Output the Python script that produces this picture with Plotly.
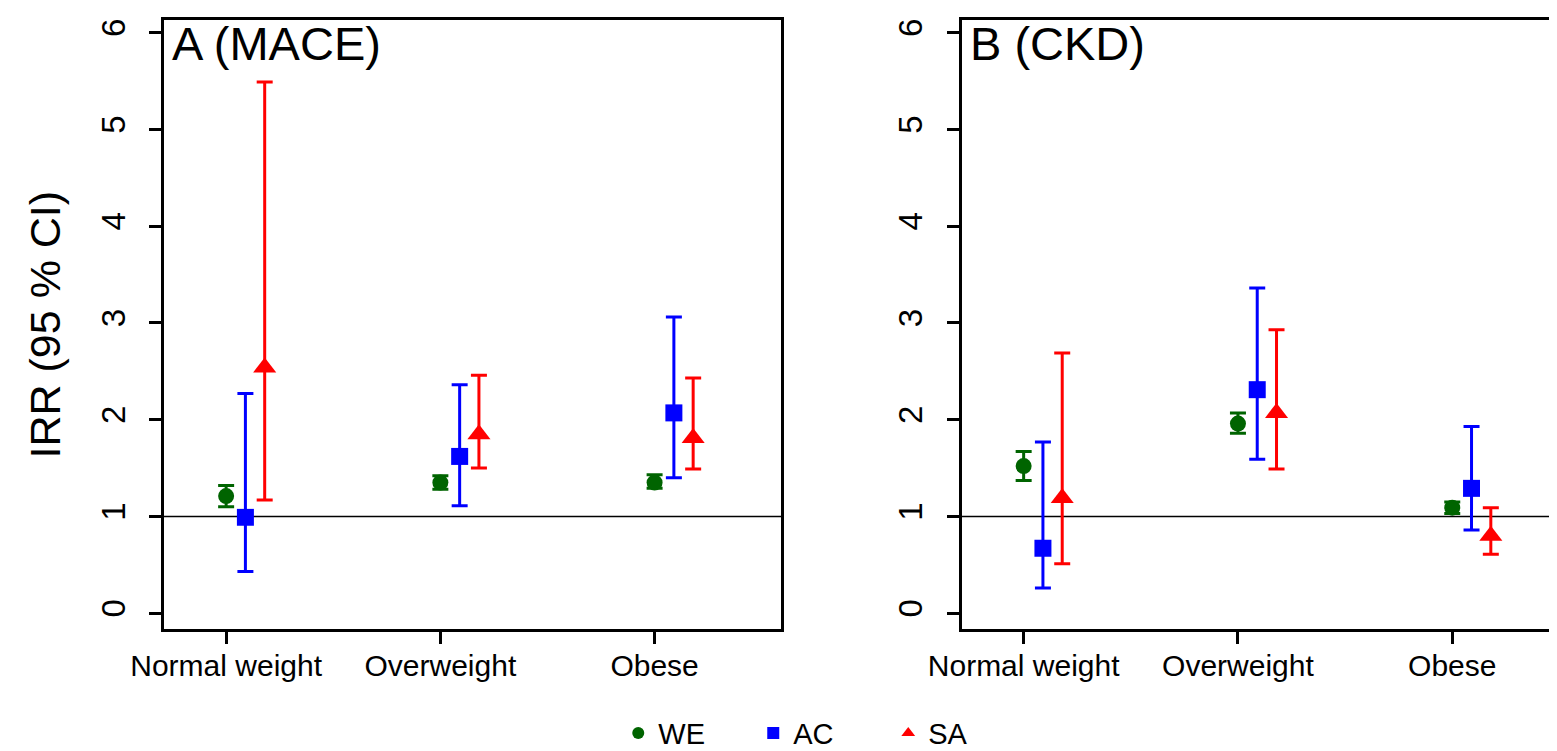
import plotly.graph_objects as go

# ---------------- data ----------------
categories = ["Normal weight", "Overweight", "Obese"]
series = ["WE", "AC", "SA"]

# Panel A (MACE)
mace_we = [1.21, 1.35, 1.35]
mace_we_lo = [1.10, 1.28, 1.29]
mace_we_hi = [1.32, 1.42, 1.43]
mace_ac = [0.99, 1.62, 2.07]
mace_ac_lo = [0.43, 1.11, 1.40]
mace_ac_hi = [2.27, 2.36, 3.06]
mace_sa = [2.54, 1.85, 1.81]
mace_sa_lo = [1.17, 1.50, 1.49]
mace_sa_hi = [5.49, 2.46, 2.43]

# Panel B (CKD)
ckd_we = [1.52, 1.96, 1.09]
ckd_we_lo = [1.37, 1.86, 1.03]
ckd_we_hi = [1.67, 2.07, 1.15]
ckd_ac = [0.67, 2.31, 1.29]
ckd_ac_lo = [0.26, 1.59, 0.86]
ckd_ac_hi = [1.77, 3.36, 1.93]
ckd_sa = [1.19, 2.07, 0.80]
ckd_sa_lo = [0.51, 1.49, 0.61]
ckd_sa_hi = [2.69, 2.93, 1.09]

y_ticks = [0, 1, 2, 3, 4, 5, 6]
panel_titles = ["A (MACE)", "B (CKD)"]
y_title = "IRR (95 % CI)"

# ---------------- styles ----------------
colors = {"WE": "#006400", "AC": "#0000FF", "SA": "#FF0000"}
symbols = {"WE": "circle", "AC": "square", "SA": "triangle-up"}
msizes = {"WE": 16, "AC": 17, "SA": 20}
offsets = {"WE": 0.0, "AC": 0.09, "SA": 0.18}
FONT = "Liberation Sans, Arial, sans-serif"

W, H = 1557, 751
fig = go.Figure()

panels = [
    ("x", "y", {"WE": (mace_we, mace_we_lo, mace_we_hi),
                "AC": (mace_ac, mace_ac_lo, mace_ac_hi),
                "SA": (mace_sa, mace_sa_lo, mace_sa_hi)}),
    ("x2", "y2", {"WE": (ckd_we, ckd_we_lo, ckd_we_hi),
                  "AC": (ckd_ac, ckd_ac_lo, ckd_ac_hi),
                  "SA": (ckd_sa, ckd_sa_lo, ckd_sa_hi)}),
]

base_x = list(range(1, len(categories) + 1))
for pi, (xa, ya, data) in enumerate(panels):
    for s in series:
        est, lo, hi = data[s]
        fig.add_trace(go.Scatter(
            x=[b + offsets[s] for b in base_x],
            y=est,
            mode="markers",
            name=s,
            legendgroup=s,
            showlegend=(pi == 0),
            xaxis=xa, yaxis=ya,
            marker=dict(symbol=symbols[s], size=msizes[s], color=colors[s],
                        line=dict(width=0)),
            error_y=dict(type="data", symmetric=False,
                         array=[h - e for h, e in zip(hi, est)],
                         arrayminus=[e - l for e, l in zip(est, lo)],
                         color=colors[s], thickness=3, width=8),
            text=categories,
            hovertemplate="%{text}<br>" + s + ": %{y:.2f}<extra></extra>",
        ))

axis_common = dict(showgrid=False, zeroline=False, showline=True,
                   linecolor="black", linewidth=3, ticks="outside",
                   ticklen=12, tickwidth=2.5, tickcolor="black",
                   automargin=False)

yd = [1 - 631.5 / H, 1 - 11.7 / H]
yrange = [-0.168, 6.136]
xtick_font = dict(size=30)
ytick_font = dict(size=33)
fig.update_layout(
    width=W, height=H,
    margin=dict(l=0, r=0, t=0, b=0),
    plot_bgcolor="white", paper_bgcolor="white",
    font=dict(family=FONT, color="black"),
    xaxis=dict(domain=[156 / W, 773 / W], range=[0.71, 3.59],
               tickvals=base_x, ticktext=categories, mirror=True,
               tickfont=xtick_font, anchor="y", ticklabelstandoff=-4,
               **axis_common),
    yaxis=dict(domain=yd, range=yrange, tickvals=y_ticks,
               tickangle=-90, tickfont=ytick_font, mirror=True,
               anchor="x", ticklabelstandoff=11, **axis_common),
    xaxis2=dict(domain=[953.5 / W, 1.0], range=[0.71, 0.71 + (W - 953.5) / 214.3],
                tickvals=base_x, ticktext=categories, mirror=True,
                tickfont=xtick_font, anchor="y2", ticklabelstandoff=-4,
                **axis_common),
    yaxis2=dict(domain=yd, range=yrange, tickvals=y_ticks,
                tickangle=-90, tickfont=ytick_font, mirror=False,
                anchor="x2", ticklabelstandoff=11, **axis_common),
    legend=dict(orientation="h", x=0.522, xanchor="center",
                y=1 - 737 / H, yanchor="middle",
                font=dict(size=29), entrywidth=90, entrywidthmode="pixels",
                itemsizing="constant", bgcolor="rgba(0,0,0,0)"),
    showlegend=True,
)

# reference line at IRR = 1
for xa, ya in [("x", "y"), ("x2", "y2")]:
    fig.add_shape(type="line", xref=f"{xa} domain", yref=ya,
                  x0=0, x1=1, y0=1, y1=1,
                  line=dict(color="black", width=1.5), layer="below")

# panel titles
for (xa, ya), t in zip([("x", "y"), ("x2", "y2")], panel_titles):
    fig.add_annotation(text=t, xref=f"{xa} domain", yref=f"{ya} domain",
                       x=0.01, y=1 - 24 / (yd[1] - yd[0]) / H,
                       xanchor="left", yanchor="middle", showarrow=False,
                       font=dict(size=47, family=FONT, color="black"))

# y-axis title
fig.add_annotation(text=y_title, xref="paper", yref="y domain",
                   x=37 / W, y=0.5, xanchor="center", yanchor="middle",
                   textangle=-90, showarrow=False,
                   font=dict(size=43, family=FONT, color="black"))

fig.write_html("out.html")
